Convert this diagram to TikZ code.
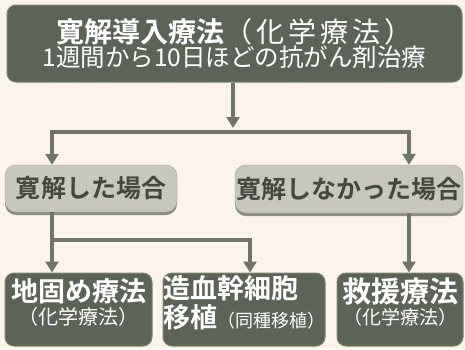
\documentclass[tikz,border=0pt]{standalone}
\usepackage{fontspec}
\newfontfamily\jp{Noto Sans CJK JP}[BoldFont={Noto Sans CJK JP Bold}]
\usetikzlibrary{arrows.meta,shadows}

\definecolor{paper}{HTML}{FCF3EA}
\definecolor{boxdark}{HTML}{5C6457}
\definecolor{boxedge}{HTML}{7C8376}
\definecolor{boxlight}{HTML}{C7C7BD}
\definecolor{boxrim}{HTML}{8C8E84}
\definecolor{linkgray}{HTML}{70756A}
\definecolor{textdark}{HTML}{45483F}

\newcommand{\titlefont}{\fontsize{27}{30}\selectfont\bfseries}
\newcommand{\notefont}{\fontsize{20}{24}\selectfont\mdseries}

\begin{document}
\begin{tikzpicture}[x=1pt,y=-1pt,font=\jp,
    darkbox/.style={rounded corners=9pt, fill=boxdark, draw=boxedge, line width=1pt,
        text=white, align=center, inner sep=0pt},
    lowbox/.style={darkbox, minimum height=73pt, text depth=16pt},
    lightbox/.style={rounded corners=11pt, fill=boxlight, draw=boxrim!70!boxlight,
        general shadow={fill=boxrim, shadow yshift=-3pt, rounded corners=11pt},
        text=textdark, inner sep=0pt, font=\jp\fontsize{25}{28}\selectfont\bfseries},
    link/.style={draw=linkgray, line width=4.5pt},
    tip/.style={-{Triangle[width=13pt,length=11pt]}},
    ]
    % Background and page size:
    \fill [paper] (0,0) rectangle (465,349);
    \useasboundingbox (0,0) rectangle (465,349);

    % Top box:
    \node [darkbox, minimum width=455pt, minimum height=77pt] (induction) at (234.5,43.5)
        {{\fontsize{28}{30}\selectfont\bfseries 寛解導入療法{\mdseries\addfontfeature{LetterSpace=14}（化学療法）}}\\[0pt]
         {\fontsize{24.5}{28}\selectfont 1週間から10日ほどの抗がん剤治療}};

    % Middle boxes:
    \node [lightbox, minimum width=172pt, minimum height=47pt] (remit) at (91,188.5) {寛解した場合};
    \node [lightbox, minimum width=228pt, minimum height=48pt] (noremit) at (349,189) {寛解しなかった場合};

    % Bottom boxes:
    \node [lowbox, minimum width=147pt] (consolid) at (78.5,309.5)
        {{\titlefont 地固め療法}\\[2pt]{\notefont （化学療法）}};
    \node [lowbox, minimum width=162pt, align=left] (transplant) at (244,309.5)
        {{\titlefont 造血幹細胞}\\[2pt]{\titlefont 移植}{\fontsize{18}{20}\selectfont\mdseries （同種移植）}};
    \node [lowbox, minimum width=126pt] (salvage) at (400,309.5)
        {{\fontsize{29}{30}\selectfont\bfseries 救援療法}\\[2pt]{\fontsize{19}{24}\selectfont （化学療法）}};

    % Connectors:
    % Branch points are named coordinates, the lines run through them
    \coordinate (branchL) at (52,132);
    \coordinate (branchR) at (409,132);
    \coordinate (lowL) at (52,240);
    \coordinate (lowR) at (250,240);

    \draw [link, tip, shorten >=2pt] (induction.south -| 233,0) -- (233,130);
    \draw [link, {Triangle[width=13pt,length=11pt]}-{Triangle[width=13pt,length=11pt]}]
        (branchL |- remit.north) -- (branchL) -- (branchR) -- (branchR |- noremit.north);
    \draw [link, tip] (lowL |- remit.south) -- (lowL) -- (lowR) -- (lowR |- transplant.north);
    \draw [link, tip] (lowL) -- (lowL |- consolid.north);
    \draw [link, tip] (branchR |- noremit.south) -- (branchR |- salvage.north);
\end{tikzpicture}
\end{document}
